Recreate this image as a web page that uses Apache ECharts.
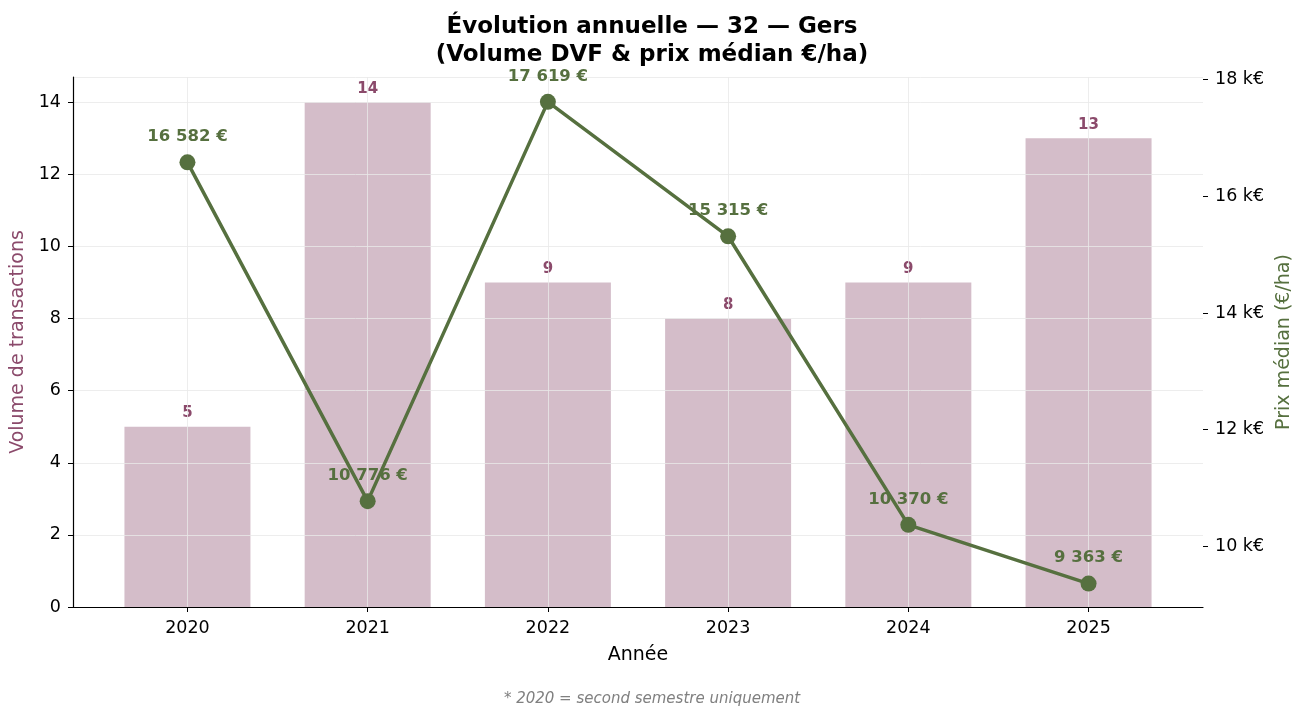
<!DOCTYPE html>
<html>
<head>
<meta charset="utf-8">
<script src="https://cdn.jsdelivr.net/npm/echarts@6/dist/echarts.min.js"></script>
<style>
  html, body { margin: 0; padding: 0; background: #fff; }
  #chart { width: 1304px; height: 719px; }
</style>
</head>
<body>
<div id="chart"></div>
<script>
var years = ['2020', '2021', '2022', '2023', '2024', '2025'];
var volumes = [5, 14, 9, 8, 9, 13];
var prices = [16582, 10776, 17619, 15315, 10370, 9363];
var priceTicks = [10000, 12000, 14000, 16000, 18000];

var barColor = '#d4bdc9';
var barText = '#8b4a6b';
var lineColor = '#56703f';
var font = 'DejaVu Sans';

function fmtEuro(v) {
  return String(Math.round(v)).replace(/\B(?=(\d{3})+(?!\d))/g, ' ') + ' €';
}

var idx = years.map(function (y, i) { return i; });
var gridLine = { show: true, lineStyle: { color: 'rgba(232,232,232,0.8)', width: 1 } };

var chart = echarts.init(document.getElementById('chart'));
var option = {
  backgroundColor: '#FFFFFF',
  textStyle: { fontFamily: font },
  title: {
    text: 'Évolution annuelle — 32 — Gers\n(Volume DVF & prix médian €/ha)',
    left: 'center',
    top: 8,
    textStyle: { fontFamily: font, fontSize: 23, fontWeight: 'bold', color: '#000', lineHeight: 28 }
  },
  grid: { left: 73, right: 101, top: 77, bottom: 112, outerBoundsMode: 'none' },
  xAxis: {
    type: 'value',
    min: -0.635,
    max: 5.635,
    z: 3,
    name: 'Année',
    nameLocation: 'middle',
    nameGap: 39,
    nameTextStyle: { fontFamily: font, fontSize: 19, color: '#000' },
    axisLine: { show: true, onZero: false, lineStyle: { color: '#000', width: 1.2 } },
    axisTick: { show: true, customValues: idx, length: 5, lineStyle: { color: '#000' } },
    axisLabel: {
      customValues: idx,
      fontFamily: font,
      fontSize: 17.5,
      color: '#000',
      margin: 12,
      formatter: function (v) { return years[Math.round(v)]; }
    },
    splitLine: gridLine
  },
  yAxis: [
    {
      type: 'value',
      min: 0,
      max: 14.7,
      interval: 2,
      z: 3,
      name: 'Volume de transactions',
      nameLocation: 'middle',
      nameGap: 40,
      nameTextStyle: { fontFamily: font, fontSize: 19, color: barText },
      axisLine: { show: true, onZero: false, lineStyle: { color: '#000', width: 1.2 } },
      axisTick: { show: true, length: 5, lineStyle: { color: '#000' } },
      axisLabel: {
        fontFamily: font,
        fontSize: 17.5,
        color: '#000',
        margin: 12,
        showMaxLabel: false,
        formatter: function (v) { return v % 2 === 0 ? v : ''; }
      },
      splitLine: gridLine
    },
    {
      type: 'value',
      min: 8962,
      max: 18045,
      position: 'right',
      z: 3,
      name: 'Prix médian (€/ha)',
      nameLocation: 'middle',
      nameRotate: 90,
      nameGap: 70,
      nameTextStyle: { fontFamily: font, fontSize: 19, color: lineColor },
      axisLine: { show: false, onZero: false },
      axisTick: { show: true, customValues: priceTicks, length: 5, lineStyle: { color: '#000' } },
      axisLabel: {
        customValues: priceTicks,
        fontFamily: font,
        fontSize: 17.5,
        color: '#000',
        margin: 12,
        formatter: function (v) { return Math.round(v / 1000) + ' k€'; }
      },
      splitLine: { show: false }
    }
  ],
  series: [
    {
      type: 'bar',
      yAxisIndex: 0,
      z: 1,
      barWidth: 126,
      data: volumes.map(function (v, i) { return [i, v]; }),
      itemStyle: { color: barColor },
      label: {
        show: true,
        position: 'top',
        distance: 6,
        fontFamily: font,
        fontSize: 15,
        fontWeight: 'bold',
        color: barText,
        formatter: function (p) { return p.value[1]; }
      }
    },
    {
      type: 'line',
      yAxisIndex: 1,
      z: 5,
      data: prices.map(function (v, i) { return [i, v]; }),
      symbol: 'circle',
      symbolSize: 16,
      lineStyle: { color: lineColor, width: 3.5 },
      itemStyle: { color: lineColor },
      label: {
        show: true,
        position: 'top',
        distance: 9,
        fontFamily: font,
        fontSize: 16.5,
        fontWeight: 'bold',
        color: lineColor,
        formatter: function (p) { return fmtEuro(p.value[1]); }
      }
    }
  ],
  graphic: [
    {
      type: 'text',
      left: 'center',
      top: 692,
      style: {
        text: '* 2020 = second semestre uniquement',
        fontFamily: font,
        fontSize: 15,
        fontStyle: 'italic',
        fill: '#808080'
      }
    }
  ]
};
chart.setOption(option);
</script>
</body>
</html>
